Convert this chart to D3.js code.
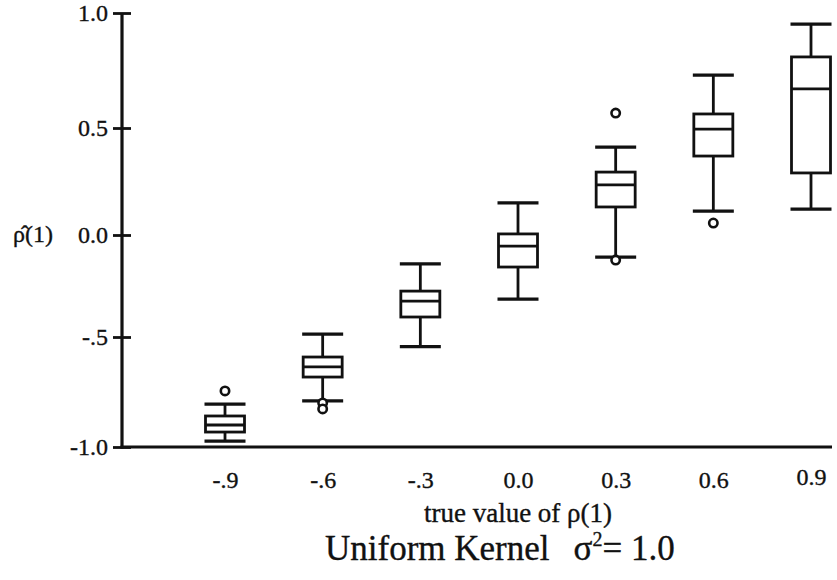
<!DOCTYPE html>
<html>
<head>
<meta charset="utf-8">
<script src="https://cdn.jsdelivr.net/npm/d3@7/dist/d3.min.js"></script>
<style>
  html, body { margin: 0; padding: 0; background: #fff; }
  svg { display: block; }
  text { font-family: "Liberation Serif", "Times New Roman", serif; fill: #111; stroke: #111; stroke-width: 0.35px; }
</style>
</head>
<body>
<svg id="chart" width="837" height="580"></svg>
<script>
// ---- data ----
const categories  = ["-.9", "-.6", "-.3", "0.0", "0.3", "0.6", "0.9"];
const trueValues  = [-0.9, -0.6, -0.3, 0.0, 0.3, 0.6, 0.9];
const whiskerLow  = [-0.973, -0.790, -0.544, -0.314, -0.108, 0.112, 0.121];
const q1          = [-0.932, -0.682, -0.402, -0.157, 0.131, 0.369, 0.290];
const medians     = [-0.900, -0.636, -0.324, -0.055, 0.234, 0.495, 0.670];
const q3          = [-0.859, -0.591, -0.275, 0.005, 0.294, 0.561, 0.809];
const whiskerHigh = [-0.805, -0.486, -0.142, 0.150, 0.411, 0.730, 0.952];
const outlierTrue  = [-0.9, -0.6, -0.6, 0.3, 0.3, 0.6];
const outlierValue = [-0.745, -0.800, -0.827, 0.565, -0.123, 0.056];
const yTickValues = [-1.0, -0.5, 0.0, 0.5, 1.0];
const yTickLabels = ["-1.0", "-.5", "0.0", "0.5", "1.0"];

const svg = d3.select("#chart");
const ink = "#111";

// scales (the scanned original has slightly uneven tick spacing)
const y = d3.scaleLinear().domain([-1, -0.5, 0, 0.5, 1]).range([447, 337, 235, 128, 13]);
const x = d3.scaleLinear().domain([-0.9, 0.9]).range([225, 811]);
const axisX = 122, axisRight = 832;

// Y axis
const yAxis = svg.append("g").attr("transform", `translate(${axisX},0)`)
  .call(d3.axisLeft(y).tickValues(yTickValues)
        .tickFormat((d, i) => yTickLabels[i]).tickSize(0).tickPadding(14));
yAxis.select(".domain").remove();
yAxis.selectAll(".tick text").attr("font-size", 24).style("font-family", "Liberation Serif")
  .attr("fill", ink);
yAxis.selectAll(".tick").append("line")
  .attr("x1", -9).attr("x2", 9).attr("stroke", ink).attr("stroke-width", 2.8);
svg.append("line").attr("x1", axisX).attr("x2", axisX)
  .attr("y1", y(1)).attr("y2", y(-1) + 1.5).attr("stroke", ink).attr("stroke-width", 3.2);

// X axis
svg.append("line").attr("x1", axisX - 1.5).attr("x2", axisRight)
  .attr("y1", y(-1)).attr("y2", y(-1)).attr("stroke", ink).attr("stroke-width", 3.2);
const xAxis = svg.append("g").attr("transform", `translate(0,${y(-1)})`)
  .call(d3.axisBottom(x).tickValues(trueValues)
        .tickFormat((d, i) => categories[i]).tickSize(0).tickPadding(29));
xAxis.select(".domain").remove();
xAxis.selectAll(".tick text").attr("font-size", 24).style("font-family", "Liberation Serif")
  .attr("fill", ink)
  .attr("dy", (d, i) => i === categories.length - 1 ? "0.36em" : "0.52em");

// Axis titles
svg.append("text").attr("x", 518).attr("y", 522).attr("text-anchor", "middle")
  .attr("font-size", 27).text("true value of ρ(1)");

svg.append("text").attr("x", 13).attr("y", 242).attr("font-size", 24).text("ρ\u0302(1)");

const title = svg.append("text").attr("x", 325).attr("y", 560).attr("font-size", 35);
title.append("tspan").text("Uniform Kernel");
title.append("tspan").attr("dx", 24).text("σ");
title.append("tspan").attr("dy", -14).attr("font-size", 20).text("2");
title.append("tspan").attr("dy", 14).text("= 1.0");

// Boxes
const boxW = 39, capW = 41;
const g = svg.append("g").attr("stroke", ink).attr("stroke-width", 2.8).attr("fill", "none");
trueValues.forEach((t, i) => {
  const cx = x(t);
  g.append("line").attr("x1", cx).attr("x2", cx).attr("y1", y(whiskerHigh[i])).attr("y2", y(q3[i]));
  g.append("line").attr("x1", cx).attr("x2", cx).attr("y1", y(q1[i])).attr("y2", y(whiskerLow[i]));
  g.append("line").attr("x1", cx - capW / 2).attr("x2", cx + capW / 2)
    .attr("y1", y(whiskerHigh[i])).attr("y2", y(whiskerHigh[i])).attr("stroke-width", 3.2);
  g.append("line").attr("x1", cx - capW / 2).attr("x2", cx + capW / 2)
    .attr("y1", y(whiskerLow[i])).attr("y2", y(whiskerLow[i])).attr("stroke-width", 3.2);
  g.append("rect").attr("x", cx - boxW / 2).attr("width", boxW)
    .attr("y", y(q3[i])).attr("height", y(q1[i]) - y(q3[i])).attr("fill", "#fff");
  g.append("line").attr("x1", cx - boxW / 2).attr("x2", cx + boxW / 2)
    .attr("y1", y(medians[i])).attr("y2", y(medians[i]));
});

// Outliers
outlierTrue.forEach((t, i) => {
  g.append("circle").attr("cx", x(t)).attr("cy", y(outlierValue[i])).attr("r", 4.2)
    .attr("fill", "#fff").attr("stroke-width", 2.6);
});
</script>
</body>
</html>
